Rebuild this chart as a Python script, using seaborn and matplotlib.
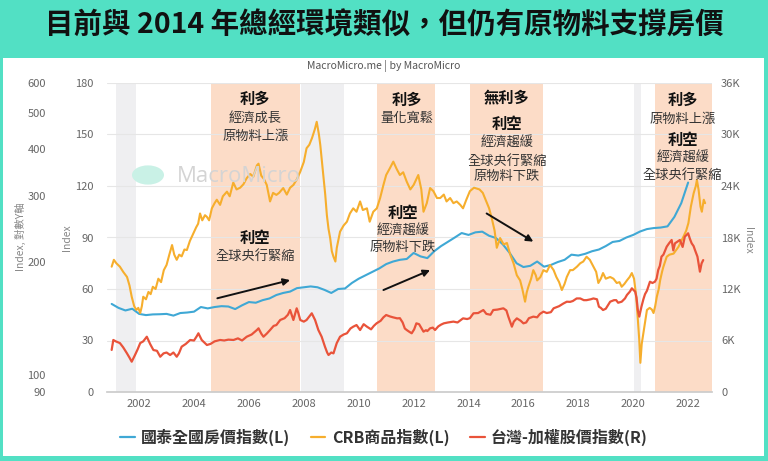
import matplotlib
matplotlib.use('Agg')
from matplotlib import pyplot as plt
from matplotlib.patches import Rectangle, Circle
from matplotlib.ticker import FuncFormatter, NullLocator, NullFormatter
import seaborn as sns

# --- data (decimal years) ---
house_year = [2001.0, 2001.25, 2001.5, 2001.75, 2002.0, 2002.25, 2002.5, 2002.75, 2003.0, 2003.25,
              2003.5, 2003.75, 2004.0, 2004.25, 2004.5, 2004.75, 2005.0, 2005.25, 2005.5, 2005.75,
              2006.0, 2006.25, 2006.5, 2006.75, 2007.0, 2007.25, 2007.5, 2007.75, 2008.0, 2008.25,
              2008.5, 2008.75, 2009.0, 2009.25, 2009.5, 2009.75, 2010.0, 2010.25, 2010.5, 2010.75,
              2011.0, 2011.25, 2011.5, 2011.75, 2012.0, 2012.25, 2012.5, 2012.75, 2013.0, 2013.25,
              2013.5, 2013.75, 2014.0, 2014.25, 2014.5, 2014.75, 2015.0, 2015.25, 2015.5, 2015.75,
              2016.0, 2016.25, 2016.5, 2016.75, 2017.0, 2017.25, 2017.5, 2017.75, 2018.0, 2018.25,
              2018.5, 2018.75, 2019.0, 2019.25, 2019.5, 2019.75, 2020.0, 2020.25, 2020.5, 2020.75,
              2021.0, 2021.25, 2021.5, 2021.75, 2022.0]
house_val = [51.3, 49, 47.5, 48.5, 45.5, 44.8, 45.2, 45.3, 45.5, 44.5,
             46, 46.3, 46.8, 49.5, 48.7, 49.5, 50, 49.8, 48.3, 50.5,
             52.4, 52, 53.5, 54.5, 56.5, 57.7, 58.5, 60.5, 61, 61.5,
             61, 59.5, 57.7, 60, 60.3, 63.5, 66, 68, 70, 72,
             74.5, 76, 77, 77.5, 81, 79, 78, 82, 85, 87.5,
             90, 92.6, 91.5, 93, 93.4, 91, 89.7, 86, 81, 75,
             72.8, 73.5, 76, 73, 74, 75.7, 77, 80, 79.5, 80.5,
             82, 83, 85, 87.4, 88, 90, 91.5, 93.5, 94.9, 95.5,
             95.8, 96.5, 102, 110, 122]

crb_year = [2001.0, 2001.08, 2001.17, 2001.3, 2001.42, 2001.56, 2001.65, 2001.73, 2001.82, 2001.9,
            2001.97, 2002.04, 2002.1, 2002.15, 2002.25, 2002.34, 2002.42, 2002.5, 2002.6, 2002.7,
            2002.8, 2002.9, 2003.0, 2003.1, 2003.2, 2003.28, 2003.37, 2003.46, 2003.55, 2003.65,
            2003.74, 2003.85, 2003.98, 2004.08, 2004.15, 2004.22, 2004.3, 2004.4, 2004.47, 2004.55,
            2004.65, 2004.75, 2004.83, 2004.95, 2005.05, 2005.2, 2005.3, 2005.43, 2005.55, 2005.68,
            2005.8, 2005.92, 2006.05, 2006.16, 2006.29, 2006.35, 2006.45, 2006.55, 2006.65, 2006.77,
            2006.88, 2007.0, 2007.1, 2007.25, 2007.38, 2007.5, 2007.62, 2007.75, 2007.87, 2008.0,
            2008.1, 2008.2, 2008.3, 2008.4, 2008.47, 2008.55, 2008.6, 2008.71, 2008.78, 2008.84,
            2008.9, 2008.96, 2009.02, 2009.08, 2009.15, 2009.2, 2009.32, 2009.45, 2009.57, 2009.68,
            2009.8, 2009.92, 2010.05, 2010.15, 2010.3, 2010.4, 2010.53, 2010.66, 2010.78, 2010.9,
            2011.0, 2011.14, 2011.26, 2011.38, 2011.5, 2011.62, 2011.75, 2011.88, 2012.0, 2012.17,
            2012.28, 2012.36, 2012.48, 2012.6, 2012.72, 2012.85, 2012.97, 2013.1, 2013.2, 2013.33,
            2013.45, 2013.57, 2013.7, 2013.8, 2013.92, 2014.05, 2014.2, 2014.4, 2014.52, 2014.65,
            2014.75, 2014.85, 2014.95, 2015.03, 2015.15, 2015.28, 2015.4, 2015.52, 2015.64, 2015.76,
            2015.88, 2015.96, 2016.06, 2016.12, 2016.18, 2016.28, 2016.36, 2016.45, 2016.5, 2016.62,
            2016.73, 2016.85, 2016.97, 2017.1, 2017.2, 2017.3, 2017.4, 2017.5, 2017.58, 2017.7,
            2017.8, 2017.95, 2018.07, 2018.18, 2018.3, 2018.42, 2018.55, 2018.65, 2018.73, 2018.82,
            2018.9, 2019.0, 2019.16, 2019.28, 2019.4, 2019.5, 2019.58, 2019.68, 2019.77, 2019.87,
            2019.95, 2020.03, 2020.1, 2020.17, 2020.22, 2020.26, 2020.31, 2020.37, 2020.43, 2020.5,
            2020.6, 2020.68, 2020.74, 2020.8, 2020.86, 2020.93, 2020.98, 2021.05, 2021.1, 2021.22,
            2021.32, 2021.47, 2021.58, 2021.65, 2021.75, 2021.83, 2021.93, 2022.01, 2022.1, 2022.2,
            2022.28, 2022.32, 2022.38, 2022.45, 2022.5, 2022.57, 2022.62]
crb_val = [73, 77, 75, 73, 70, 67, 62, 55.5, 50, 47.8,
           49, 46, 50, 55.5, 54, 58.3, 57, 61.3, 60, 66,
           64, 71, 74, 80, 85.6, 80, 77, 80, 79, 83,
           82.7, 88, 92.6, 96, 98, 104, 100, 103, 102, 100,
           107, 110, 112, 109, 114, 116.7, 114, 122, 118, 119,
           121, 124.6, 127, 125.4, 132, 133, 126, 124, 120.6, 111,
           116, 114.8, 116, 118.8, 115, 119, 120.6, 124, 128.3, 134,
           142, 144, 148, 153, 157.4, 150, 143.9, 126.4, 115, 103,
           95, 89.7, 82, 78.8, 76, 83.9, 93.4, 97, 99.2, 104,
           107, 105, 111, 106, 107, 99.2, 105, 107, 113, 120.6,
           126.4, 130.5, 134.2, 130, 126.4, 128, 122.5, 118, 120.6, 126.4,
           118, 105, 110, 118.8, 117, 113, 113, 115, 111, 113,
           110, 111, 109, 107, 112, 117, 119, 118, 116, 111,
           107, 101, 94, 84, 89.7, 86, 86.8, 80, 75, 68,
           65, 60, 52.6, 58, 61.3, 66, 71, 68, 65, 67,
           71, 70, 74, 71, 67, 64, 59.4, 63, 67, 71,
           71, 73, 75, 76, 78.8, 77, 73, 70, 63.5, 66,
           69.3, 66, 67, 66, 63.5, 64, 61.3, 63, 65, 67,
           69.3, 66, 57, 42, 30.3, 17, 28, 34.2, 40, 47.8,
           49, 48, 46, 50, 55.5, 60, 65, 70, 73, 78.8,
           80, 80.6, 83, 84.6, 88, 90.5, 94, 98.4, 108, 115.7,
           120, 123.5, 118, 108, 105, 112, 110]

taiex_year = [2001.0, 2001.06, 2001.15, 2001.3, 2001.42, 2001.55, 2001.65, 2001.73, 2001.85, 2001.95,
              2002.04, 2002.15, 2002.28, 2002.4, 2002.52, 2002.65, 2002.77, 2002.89, 2003.0, 2003.13,
              2003.25, 2003.37, 2003.45, 2003.55, 2003.7, 2003.86, 2004.0, 2004.1, 2004.16, 2004.28,
              2004.4, 2004.47, 2004.6, 2004.75, 2004.95, 2005.1, 2005.25, 2005.44, 2005.6, 2005.75,
              2005.92, 2006.1, 2006.29, 2006.35, 2006.45, 2006.53, 2006.65, 2006.77, 2006.9, 2007.0,
              2007.14, 2007.3, 2007.42, 2007.5, 2007.62, 2007.74, 2007.8, 2007.87, 2008.0, 2008.1,
              2008.2, 2008.29, 2008.41, 2008.53, 2008.65, 2008.77, 2008.85, 2008.9, 2009.0, 2009.08,
              2009.2, 2009.32, 2009.45, 2009.57, 2009.7, 2009.8, 2009.92, 2010.05, 2010.18, 2010.3,
              2010.45, 2010.55, 2010.65, 2010.8, 2010.9, 2011.0, 2011.14, 2011.25, 2011.4, 2011.5,
              2011.6, 2011.68, 2011.75, 2011.85, 2011.93, 2012.02, 2012.1, 2012.2, 2012.36, 2012.45,
              2012.5, 2012.6, 2012.7, 2012.78, 2012.9, 2013.0, 2013.1, 2013.25, 2013.45, 2013.6,
              2013.8, 2013.95, 2014.05, 2014.18, 2014.35, 2014.54, 2014.65, 2014.8, 2014.9, 2015.05,
              2015.27, 2015.38, 2015.45, 2015.58, 2015.65, 2015.76, 2015.9, 2016.0, 2016.1, 2016.2,
              2016.36, 2016.5, 2016.6, 2016.73, 2016.85, 2017.0, 2017.1, 2017.3, 2017.45, 2017.58,
              2017.7, 2017.8, 2017.94, 2018.07, 2018.2, 2018.3, 2018.45, 2018.55, 2018.68, 2018.75,
              2018.82, 2018.9, 2019.0, 2019.16, 2019.3, 2019.38, 2019.45, 2019.58, 2019.7, 2019.77,
              2019.88, 2019.95, 2020.07, 2020.12, 2020.17, 2020.22, 2020.3, 2020.37, 2020.43, 2020.5,
              2020.61, 2020.7, 2020.79, 2020.85, 2020.91, 2020.97, 2021.03, 2021.1, 2021.22, 2021.3,
              2021.4, 2021.46, 2021.52, 2021.6, 2021.7, 2021.8, 2021.88, 2022.0, 2022.07, 2022.13,
              2022.2, 2022.25, 2022.34, 2022.43, 2022.49, 2022.55]
taiex_val = [4900, 6060, 5900, 5700, 5200, 4540, 4000, 3530, 4310, 5000,
             5700, 5900, 6440, 5600, 4890, 4800, 4110, 4500, 4600, 4310,
             4600, 4110, 4500, 5280, 5600, 6060, 6000, 6500, 6840, 6060,
             5700, 5476, 5600, 5900, 6060, 6000, 6100, 6060, 6250, 6000,
             6440, 6700, 7220, 7420, 6800, 6440, 6800, 7220, 7700, 7800,
             8390, 8600, 9000, 9550, 8390, 9750, 9200, 8390, 8200, 8390,
             8800, 9170, 8390, 7220, 6440, 5280, 4600, 4310, 4600, 4500,
             5700, 6440, 6700, 6840, 7400, 7610, 7800, 7220, 7900, 7610,
             7300, 7700, 8000, 8300, 8700, 8970, 8800, 8700, 8580, 8600,
             8100, 7400, 7220, 7000, 6840, 7300, 8000, 7900, 7030, 7200,
             7100, 7420, 7500, 7220, 7650, 7850, 8000, 8100, 8200, 8100,
             8580, 8500, 8600, 9170, 9200, 9550, 9100, 9000, 9550, 9600,
             9750, 9500, 8780, 7610, 8200, 8580, 8300, 8000, 8100, 8600,
             8780, 8700, 9100, 9360, 9200, 9300, 9750, 10000, 10300, 10520,
             10500, 10600, 10900, 10900, 10700, 10700, 10800, 10900, 10800, 9940,
             9800, 9550, 9700, 10520, 10700, 10700, 10400, 10520, 10900, 11300,
             11700, 12080, 11690, 11000, 9500, 8780, 9940, 10800, 11400, 11800,
             12850, 12700, 12850, 13200, 14210, 14700, 15770, 16000, 16930, 17300,
             17710, 16500, 17320, 17500, 17710, 16900, 18100, 18490, 17800, 17320,
             17000, 16540, 15770, 14020, 14980, 15370]

recessions = [(2001.17, 2001.89), (2007.9, 2009.48), (2020.02, 2020.27)]
phases = [(2004.63, 2007.87), (2010.65, 2012.78), (2014.07, 2016.7), (2020.81, 2022.87)]

series_labels = ['國泰全國房價指數(L)', 'CRB商品指數(L)', '台灣-加權股價指數(R)']
series_colors = ['#3FA8D5', '#F6AE2D', '#E9533A']

# notes per phase: x centre, then (y on left axis, text, bold)
notes = [
    (2006.23, [(170.5, '利多', True), (159.5, '經濟成長', False), (149, '原物料上漲', False),
               (90, '利空', True), (79, '全球央行緊縮', False)]),
    (2011.75, [(170, '利多', True), (159.5, '量化寬鬆', False)]),
    (2011.6, [(104, '利空', True), (93.5, '經濟趨緩', False), (84, '原物料下跌', False)]),
    (2015.4, [(171, '無利多', True), (156, '利空', True), (145, '經濟趨緩', False),
              (134.5, '全球央行緊縮', False), (125.5, '原物料下跌', False)]),
    (2021.8, [(170, '利多', True), (159, '原物料上漲', False), (147, '利空', True),
              (136, '經濟趨緩', False), (126, '全球央行緊縮', False)]),
]
arrows = [((2004.85, 54.6), (2007.5, 65.2)), ((2010.9, 59.4), (2012.6, 71)),
          ((2014.66, 104), (2016.36, 87.6))]

# --- style ---
sns.set_theme(style='white')
plt.rcParams['font.family'] = ['Noto Sans CJK TC', 'DejaVu Sans']

W, H = 768, 461
fig = plt.figure(figsize=(W / 100, H / 100), dpi=100)
fig.patch.set_facecolor('#52E0C4')
fig.add_artist(Rectangle((3 / W, 1 - 456 / H), 761 / W, 398 / H, transform=fig.transFigure,
                         facecolor='white', edgecolor='none', zorder=0))

fig.text(0.5, 1 - 25 / H, '目前與 2014 年總經環境類似，但仍有原物料支撐房價',
         ha='center', va='center', fontsize=20.5, fontweight='bold', color='#111111')
fig.text(0.5, 1 - 66 / H, 'MacroMicro.me | by MacroMicro', ha='center', va='center',
         fontsize=7.5, color='#555555')

ax = fig.add_axes([107 / W, 1 - 392 / H, 605 / W, 309 / H])
ax.set_facecolor('none')
ax2 = ax.twinx()
ax3 = ax.twinx()

for a, b in recessions:
    ax.axvspan(a, b, color='#EFEFF1', lw=0, zorder=0)
for a, b in phases:
    ax.axvspan(a, b, color='#FCDCC7', lw=0, zorder=0)

sns.lineplot(x=house_year, y=house_val, ax=ax, color=series_colors[0], lw=1.5, estimator=None)
sns.lineplot(x=crb_year, y=crb_val, ax=ax, color=series_colors[1], lw=1.5, estimator=None)
sns.lineplot(x=taiex_year, y=taiex_val, ax=ax2, color=series_colors[2], lw=1.6, estimator=None)

ax.set_xlim(2000.83, 2022.87)
ax.set_ylim(0, 180)
ax2.set_ylim(0, 36000)
ax3.set_yscale('log')
ax3.set_ylim(90, 600)

ax.set_xticks(range(2002, 2023, 2))
ax.set_yticks(range(0, 181, 30))
ax2.set_yticks(range(0, 36001, 6000))
ax2.yaxis.set_major_formatter(FuncFormatter(lambda v, p: '0' if v == 0 else f'{int(v / 1000)}K'))
ax3.yaxis.set_minor_locator(NullLocator())
ax3.yaxis.set_minor_formatter(NullFormatter())
ax3.set_yticks([90, 100, 200, 300, 400, 500, 600])
ax3.set_yticklabels(['90', '100', '200', '300', '400', '500', '600'])
ax3.yaxis.tick_left()

ax.grid(axis='y', color='#E6E6E6', lw=0.8)
ax.set_axisbelow(True)
for a in (ax, ax2, ax3):
    for s in a.spines.values():
        s.set_visible(False)
    a.set_xlabel('')
    a.set_ylabel('')
ax.spines['bottom'].set_visible(True)
ax.spines['bottom'].set_color('#CCCCCC')

ax.tick_params(axis='x', length=0, pad=5, labelsize=8, labelcolor='#666666')
ax.tick_params(axis='y', length=0, pad=9.5, labelsize=8, labelcolor='#666666')
ax2.tick_params(axis='y', length=0, pad=6.5, labelsize=8, labelcolor='#666666')
ax3.tick_params(axis='y', length=0, pad=44, labelsize=8, labelcolor='#666666')

fig.text(20 / W, 1 - 237 / H, 'Index, 對數Y軸', rotation=90, ha='center', va='center',
         fontsize=7.5, color='#888888')
fig.text(67 / W, 1 - 238 / H, 'Index', rotation=90, ha='center', va='center',
         fontsize=7.5, color='#888888')
fig.text(748 / W, 1 - 240 / H, 'Index', rotation=270, ha='center', va='center',
         fontsize=7.5, color='#888888')

# watermark
fig.add_artist(Circle((148 / W, 1 - 175 / H), 16 / W, transform=fig.transFigure,
                      facecolor='#C9F1E6', edgecolor='none', zorder=1))
fig.text(177 / W, 1 - 176 / H, 'MacroMicro', ha='left', va='center', fontsize=16,
         color='#D4D4D4', family='Open Sans', zorder=1)

for xc, lines in notes:
    for yv, txt, bold in lines:
        ax3.text(xc, yv, txt, transform=ax.transData, ha='center', va='center',
                 fontsize=11 if bold else 9.5, fontweight='bold' if bold else 'normal',
                 color='#111111' if bold else '#333333', zorder=10)

for start, end in arrows:
    ax3.annotate('', xy=end, xytext=start, xycoords=ax.transData, textcoords=ax.transData,
                 arrowprops=dict(arrowstyle='-|>', color='#111111', lw=1.4, mutation_scale=10,
                                 shrinkA=0, shrinkB=0), zorder=10)

handles = [plt.Line2D([], [], color=c, lw=1.6) for c in series_colors]
fig.legend(handles, series_labels, loc='center', bbox_to_anchor=(0.5, 1 - 437 / H), ncol=3,
           frameon=False, handlelength=0.9, handletextpad=0.4, columnspacing=1.3,
           prop={'size': 11.5, 'weight': 'bold'}, labelcolor='#333333')

fig.savefig('out.png', dpi=100, facecolor=fig.get_facecolor())
